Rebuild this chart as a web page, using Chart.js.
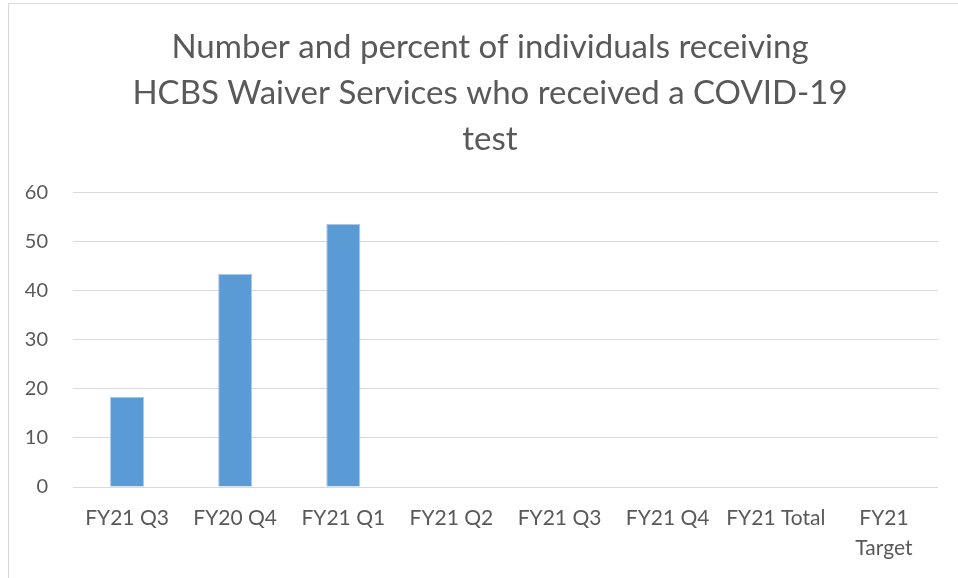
<!DOCTYPE html>
<html>
<head>
<meta charset="utf-8">
<script src="https://cdn.jsdelivr.net/npm/chart.js@4"></script>
<style>
  html, body { margin: 0; padding: 0; background: #fff; overflow: hidden; }
  #wrap { position: relative; width: 958px; height: 578px; }
  #frame { position: absolute; left: 8px; top: 3px; width: 960px; height: 590px; border: 1px solid #d9d9d9; box-sizing: border-box; }
  canvas { position: absolute; left: 0; top: 0; }
</style>
</head>
<body>
<div id="wrap">
  <div id="frame"></div>
  <canvas id="chart" width="958" height="578"></canvas>
</div>
<script>
const categories = ['FY21 Q3', 'FY20 Q4', 'FY21 Q1', 'FY21 Q2', 'FY21 Q3', 'FY21 Q4', 'FY21 Total', ['FY21', 'Target']];
const tested = [18.4, 43.4, 53.6, null, null, null, null, null];
const titleLines = ['Number and percent of individuals receiving', 'HCBS Waiver Services who received a COVID-19', 'test'];

// nudge the title block so it centres over the same spot as the original
const titleShift = {
    id: 'titleShift',
    afterLayout(chart) {
        if (chart.titleBlock) {
            chart.titleBlock.left = 42;
        }
    }
};

document.addEventListener("DOMContentLoaded", function () {
    const ctx = document.getElementById('chart').getContext('2d');
    new Chart(ctx, {
        type: 'bar',
        data: {
            labels: categories,
            datasets: [{
                label: 'Tested',
                data: tested,
                backgroundColor: '#5b9bd5',
                borderColor: '#a9c8ea',
                borderWidth: 1,
                categoryPercentage: 1,
                barPercentage: 0.315
            }]
        },
        plugins: [titleShift],
        options: {
            responsive: false,
            animation: false,
            layout: { padding: { left: 8, right: 20, top: 0, bottom: 13 } },
            plugins: {
                legend: { display: false },
                tooltip: { enabled: false },
                title: {
                    display: true,
                    text: titleLines,
                    color: '#595959',
                    font: { family: 'Lato', size: 33, weight: 'normal', lineHeight: 1.4 },
                    padding: { top: 24, bottom: 30 }
                }
            },
            scales: {
                x: {
                    afterFit: function (scale) { scale.height = 78; },
                    grid: { display: false, drawTicks: false },
                    border: { display: false },
                    ticks: {
                        color: '#595959',
                        font: { family: 'Lato', size: 21, lineHeight: 1.45 },
                        padding: 16,
                        maxRotation: 0,
                        autoSkip: false
                    }
                },
                y: {
                    min: 0,
                    max: 60,
                    afterFit: function (scale) { scale.width = 65; },
                    grid: { color: '#d9d9d9', lineWidth: 1, drawTicks: false },
                    border: { display: false },
                    ticks: {
                        stepSize: 10,
                        color: '#595959',
                        font: { family: 'Lato', size: 20 },
                        padding: 25
                    }
                }
            }
        }
    });
});
</script>
</body>
</html>
